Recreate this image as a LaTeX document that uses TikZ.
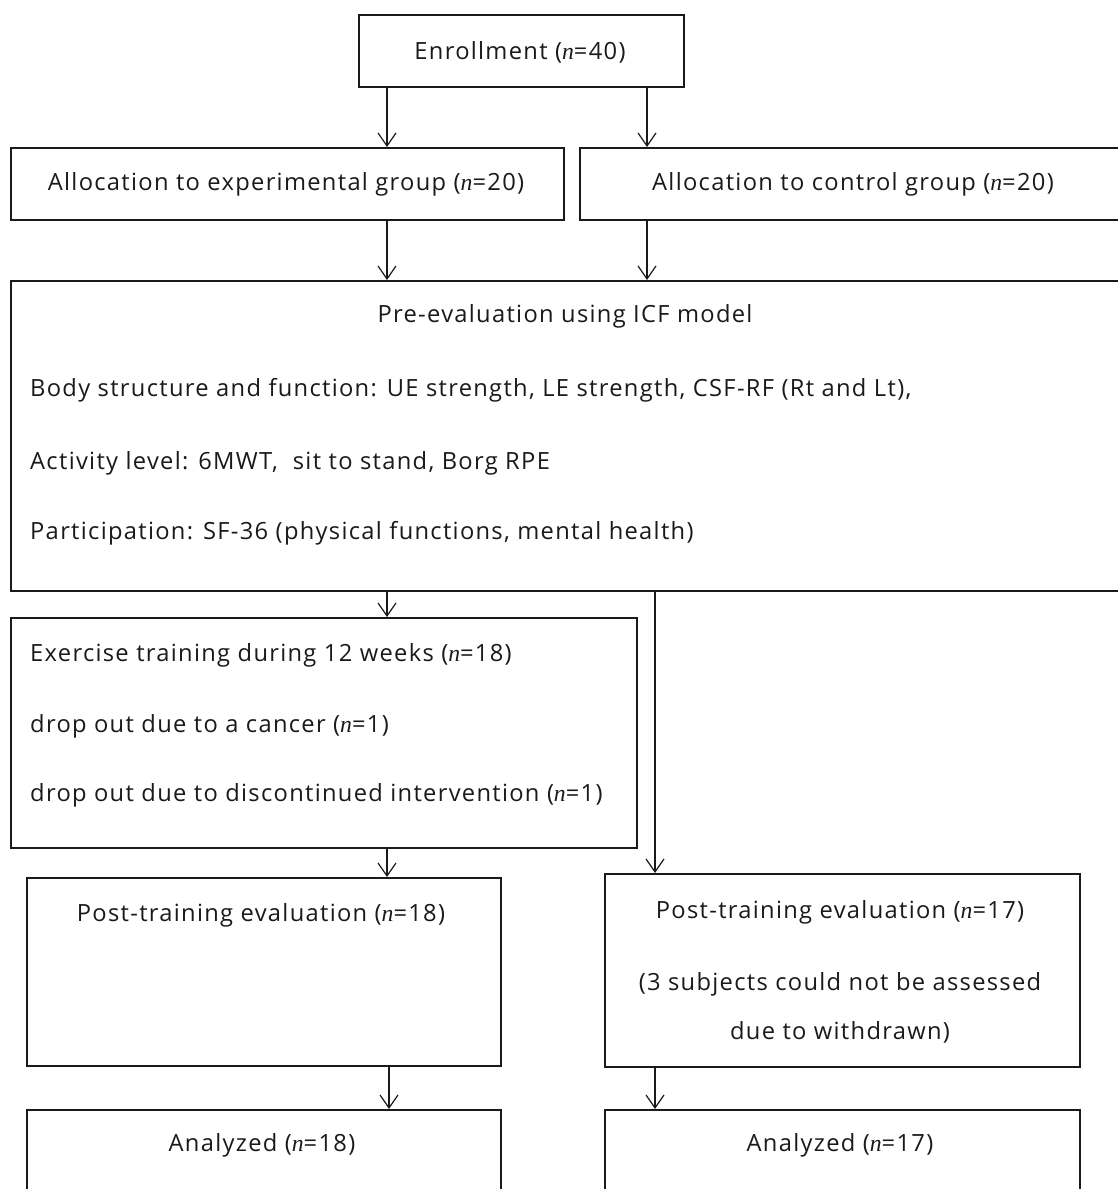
\documentclass[tikz,border=0pt]{standalone}
\usepackage{fontspec}
\setmainfont{Open Sans}[LetterSpace=5.5]
\newfontfamily\nfont{Liberation Serif}[LetterSpace=5.5]
\newcommand\nn{{\nfont\itshape n}}
\usetikzlibrary{arrows.meta,calc}
\definecolor{ink}{HTML}{1A1A1A}
\tikzset{
  box/.style={draw=ink, line width=1.6pt, inner sep=0pt, anchor=north west, rectangle},
  lbl/.style={inner sep=0pt, text=ink, font=\fontsize{23.7}{28}\selectfont},
  lft/.style={lbl, anchor=west},
  arr/.style={draw=ink, line width=1.2pt, -{Straight Barb[length=13pt,width=18pt,line width=1.2pt]}},
}
\begin{document}
\begin{tikzpicture}[x=1pt,y=-1pt]
\useasboundingbox (0,0) rectangle (1118,1189);
\clip (0,0) rectangle (1118,1189);
\fill[white] (0,0) rectangle (1118,1189);
% column positions of connectors
\coordinate (xL) at (387,0);
\coordinate (xR) at (647,0);
\coordinate (xS) at (655,0);
\coordinate (xL2) at (389,0);
% boxes
\node[box, minimum width=325pt, minimum height=72pt] (enroll) at (358,14) {};
\node[box, minimum width=553pt, minimum height=72pt] (exp) at (10,147) {};
\node[box, minimum width=560pt, minimum height=72pt] (ctrl) at (579,147) {};
\node[box, minimum width=1130pt, minimum height=310pt] (pre) at (10,280) {};
\node[box, minimum width=626pt, minimum height=230pt] (exer) at (10,617) {};
\node[box, minimum width=474pt, minimum height=188pt] (postL) at (26,877) {};
\node[box, minimum width=475pt, minimum height=193pt] (postR) at (604,873) {};
\node[box, minimum width=474pt, minimum height=140pt] (anaL) at (26,1109) {};
\node[box, minimum width=475pt, minimum height=140pt] (anaR) at (604,1109) {};
% texts
\node[lbl] (tEnroll) at (520,52) {Enrollment (\nn=40)};
\node[lbl] (tExp) at (286,184) {Allocation to experimental group (\nn=20)};
\node[lbl] (tCtrl) at (853,184) {Allocation to control group (\nn=20)};
\node[lbl] (tPre) at (565,316) {Pre-evaluation using ICF model};
\node[lft] (tBody) at (30,390) {Body structure and function: UE strength, LE strength, CSF-RF (Rt and Lt),};
\node[lft] (tAct) at (30,463) {Activity level: 6MWT,\ \ sit to stand, Borg RPE};
\node[lft] (tPart) at (30,533) {Participation: SF-36 (physical functions, mental health)};
\node[lft] (tEx1) at (30,655) {Exercise training during 12 weeks (\nn=18)};
\node[lft] (tEx2) at (30,726) {drop out due to a cancer (\nn=1)};
\node[lft] (tEx3) at (30,795) {drop out due to discontinued intervention (\nn=1)};
\node[lbl] (tPostL) at (261,915) {Post-training evaluation (\nn=18)};
\node[lbl] (tPostR1) at (840,912) {Post-training evaluation (\nn=17)};
\node[lbl] (tPostR2) at (840,984) {(3 subjects could not be assessed};
\node[lbl] (tPostR3) at (840,1032) {due to withdrawn)};
\node[lbl] (tAnaL) at (262,1145) {Analyzed (\nn=18)};
\node[lbl] (tAnaR) at (840,1145) {Analyzed (\nn=17)};
% connectors
\draw[arr] (enroll.south -| xL) -- (exp.north -| xL);
\draw[arr] (enroll.south -| xR) -- (ctrl.north -| xR);
\draw[arr] (exp.south -| xL) -- (pre.north -| xL);
\draw[arr] (ctrl.south -| xR) -- (pre.north -| xR);
\draw[arr] (pre.south -| xL) -- (exer.north -| xL);
\draw[arr] (pre.south -| xS) -- (postR.north -| xS);
\draw[arr] (exer.south -| xL) -- (postL.north -| xL);
\draw[arr] (postL.south -| xL2) -- (anaL.north -| xL2);
\draw[arr] (postR.south -| xS) -- (anaR.north -| xS);
\end{tikzpicture}
\end{document}
